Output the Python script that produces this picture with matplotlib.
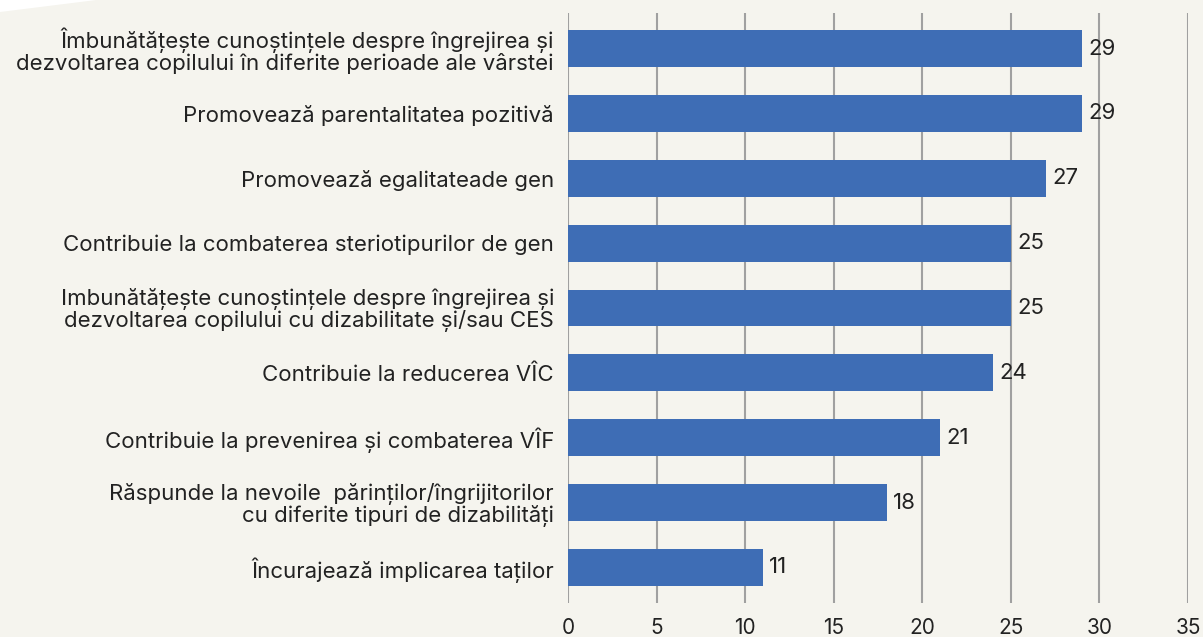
import matplotlib.pyplot as plt
from matplotlib.patches import Polygon

labels = [
    'Îmbunătățește cunoștințele despre îngrejirea și\ndezvoltarea copilului în diferite perioade ale vârstei',
    'Promovează parentalitatea pozitivă',
    'Promovează egalitateade gen',
    'Contribuie la combaterea steriotipurilor de gen',
    'Imbunătățește cunoștințele despre îngrejirea și\ndezvoltarea copilului cu dizabilitate și/sau CES',
    'Contribuie la reducerea VÎC',
    'Contribuie la prevenirea și combaterea VÎF',
    'Răspunde la nevoile  părinților/îngrijitorilor\ncu diferite tipuri de dizabilități',
    'Încurajează implicarea taților',
]
values = [29, 29, 27, 25, 25, 24, 21, 18, 11]
xticks = [0, 5, 10, 15, 20, 25, 30, 35]

bg = '#f5f4ee'
bar_color = '#3e6db5'

plt.rcParams['font.family'] = ['Inter', 'DejaVu Sans']

fig = plt.figure(figsize=(12.03, 6.37), dpi=100, facecolor=bg)
# white wedge in top-left corner
fig.patches.append(Polygon([(0, 1), (0.08, 1), (0, 1 - 12 / 637)], closed=True,
                           transform=fig.transFigure, facecolor='white', edgecolor='none'))
ax = fig.add_axes([568 / 1203, 1 - 603 / 637, (1188 - 568) / 1203, (603 - 13) / 637])
ax.set_facecolor(bg)

ypos = list(range(len(values)))
ax.barh(ypos, values, height=0.57, color=bar_color, zorder=3)
for y, v in zip(ypos, values):
    ax.text(v + 0.35, y, str(v), va='center', ha='left', fontsize=16, color='#222222', zorder=4)

ax.set_xlim(0, 35)
ax.set_ylim(8.55, -0.55)
ax.set_xticks(xticks)
ax.set_yticks(ypos)
ax.set_yticklabels(labels, fontsize=16, color='#222222', linespacing=1.0)
ax.tick_params(axis='both', length=0)
ax.tick_params(axis='x', pad=11, labelsize=15, labelcolor='#222222')
ax.tick_params(axis='y', pad=10)
ax.grid(axis='x', color='#a0a0a0', linewidth=1.5, zorder=0)
for s in ax.spines.values():
    s.set_visible(False)

fig.savefig('out.png', dpi=100, facecolor=bg)
